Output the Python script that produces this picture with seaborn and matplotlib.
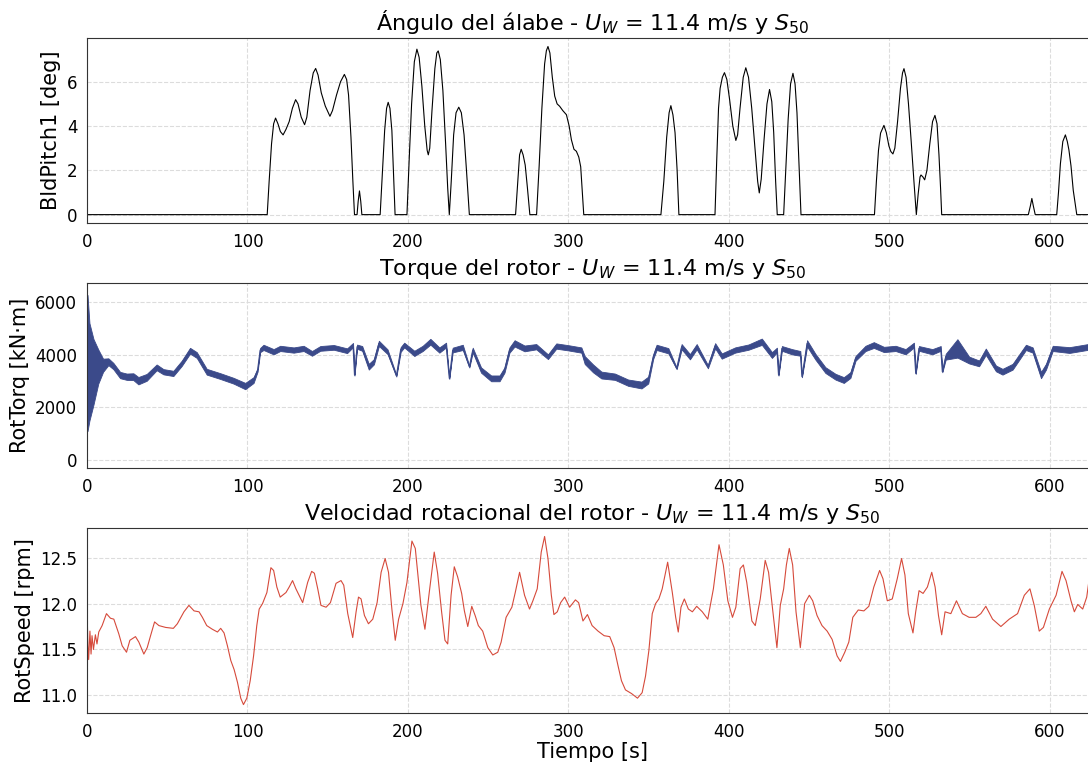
import numpy as np
import pandas as pd
import matplotlib
matplotlib.use("Agg")
import matplotlib.pyplot as plt
import seaborn as sns

# Datos (tiempo en s)
pitch_t = [0, 112.3, 113.5, 115, 116.3, 117.5, 119, 120.5, 122.2, 124, 126, 128, 130, 131.5,
           133.5, 135.6, 137, 139, 141, 142.5, 144, 146, 148.5, 151.4, 153, 155.5, 158, 160.4,
           161.8, 163, 164.5, 165.7, 166.7, 168.3, 169, 169.8, 170.6, 171.3, 182.7, 184, 185.5,
           186.7, 187.7, 188.8, 190, 191.2, 192,
           199.4, 200.8, 202.3, 204, 205.6, 207, 208.7, 210.5, 212, 212.7, 213.6, 215, 216.8,
           218, 218.9, 220.2, 221.8, 223.5, 224.8, 225.8, 227, 228.5, 230, 231.7, 233.3, 235,
           236.5, 238.3,
           267.1, 268.5, 269.6, 270.6, 271.8, 273.1, 274.5, 276, 280.2, 281.8, 283.5, 285.2,
           286.3, 287.3, 288.5, 290, 291.5, 293, 294.6, 296.5, 298.8, 300.5, 301.9, 303.5, 305,
           306.5, 307.7, 308.7, 309.6,
           357.7, 359.5, 361.3, 362.8, 363.9, 365.2, 366.5, 367.8, 368.9,
           391.4, 392.5, 393.6, 394.6, 396, 397.3, 398.8, 400.5, 402.5, 404.4, 405.5, 407, 409,
           410.6, 412.3, 414.3, 416.3, 418, 419, 420.2, 422, 423.8, 425.4, 426.8, 428, 429.2,
           430.2, 434.2, 435.5, 437, 438.5, 440, 441.3, 442.5, 443.8, 445,
           490.8, 492, 493.3, 494.6, 496.7, 498.2, 499.8, 501, 502.3, 503.5, 505.2, 507, 508.3,
           509.2, 510.5, 512, 513.7, 515.5, 516.9, 518, 519.2, 519.8, 521, 522.1, 523.5, 525.3,
           527, 528.5, 529.8, 531, 532, 532.7,
           586.7, 588, 588.9, 589.8, 591, 604.4, 605.5, 606.7, 608.2, 609.8, 611, 612, 613.3,
           614.7, 616.9, 624.4, 625.5, 626.5, 628, 630]
pitch_v = [0, 0, 1.5, 3.2, 4.1, 4.36, 4.1, 3.75, 3.6, 3.85, 4.2, 4.8, 5.19, 5.0,
           4.4, 4.06, 4.4, 5.6, 6.4, 6.6, 6.3, 5.5, 4.9, 4.44, 4.7, 5.4, 6.0, 6.33,
           6.1, 5.4, 3.5, 1.5, 0, 0, 0.6, 1.07, 0.6, 0, 0, 1.8, 3.8,
           4.8, 5.07, 4.8, 3.8, 1.5, 0,
           0, 2.5, 5.0, 6.9, 7.47, 7.1, 5.8, 4.0, 2.9, 2.7, 3.0, 4.7, 6.6,
           7.3, 7.39, 7.0, 5.6, 3.2, 1.2, 0, 1.5, 3.6, 4.6, 4.85, 4.6, 3.6,
           2.0, 0,
           0, 1.5, 2.7, 2.95, 2.7, 2.24, 1.2, 0, 0, 2.2, 4.8, 6.8,
           7.4, 7.59, 7.3, 6.2, 5.35, 5.0, 4.89, 4.7, 4.51, 4.0, 3.38, 2.95, 2.86,
           2.6, 2.16, 1.0, 0,
           0, 1.5, 3.5, 4.6, 4.92, 4.5, 3.7, 2.0, 0,
           0, 2.5, 4.8, 5.7, 6.2, 6.41, 6.1, 5.2, 4.0, 3.35, 3.6, 4.8, 6.2,
           6.63, 6.2, 4.8, 3.0, 1.5, 0.98, 1.6, 3.4, 5.0, 5.65, 5.1, 3.7, 1.5,
           0, 0, 2.0, 4.3, 5.9, 6.38, 5.9, 4.6, 2.2, 0,
           0, 1.5, 2.9, 3.68, 4.03, 3.7, 3.1, 2.85, 2.74, 3.0, 4.2, 5.7, 6.4,
           6.59, 6.2, 5.0, 3.3, 1.4, 0, 0.9, 1.7, 1.79, 1.7, 1.57, 2.0, 3.2,
           4.2, 4.48, 4.1, 2.7, 1.2, 0,
           0, 0.4, 0.73, 0.4, 0, 0, 1.0, 2.3, 3.3, 3.6, 3.3, 2.92, 2.2,
           1.1, 0, 0, 1.2, 2.4, 3.5, 4.2]

torq_t = [0, 0.3, 1.5, 4, 7, 10, 13.3, 16.4, 20.6, 24.7, 28.9, 32, 37.2, 43.4, 47.6, 53.8,
          59, 64.2, 68.4, 74.6, 83, 91.3, 98.6, 103.8, 106.3, 107.9, 110, 116.3, 120.4,
          128.8, 135, 140.2, 145.4, 153.8, 162.1, 165.8, 166.7, 168.3, 171.5, 175.6, 178.8,
          181.9, 187.3, 192.8, 195.5, 197.7, 204, 209.2, 214, 219.6, 223.8, 225.8, 227.9,
          234.2, 238.3, 240.4, 245.6, 251.9, 257.1, 260.2, 263.3, 266.5, 272.7, 280, 287.3,
          292.5, 299.8, 308.1, 310.2, 315.4, 320.6, 329, 337.3, 345.6, 349.8, 352.9, 355,
          362.3, 367.5, 370.6, 375.8, 380, 387, 391.5, 395.6, 404, 412.3, 420.6, 426.9, 430,
          431, 433.1, 439.4, 444.6, 445.6, 448.8, 454, 460.2, 466.5, 471.7, 475.8, 479,
          485.2, 490.4, 496.7, 504, 510.2, 515.4, 516.5, 518.5, 526.9, 532.1, 533.1, 535.2,
          542.5, 549.8, 556, 560.2, 566.5, 570.6, 576.9, 585.2, 589.4, 594.6, 597.7, 601.9,
          612.3, 618.5, 624.8, 630]
torq_mid = [3685, 3685, 3350, 3350, 3550, 3600, 3734, 3570, 3228, 3165, 3165, 3013, 3140, 3520,
            3354, 3290, 3672, 4152, 3988, 3354, 3190, 3013, 2810, 3038, 3418, 4178, 4279,
            4114, 4240, 4178, 4240, 4051, 4240, 4279, 4152, 4368, 3228, 4305, 4240, 3545,
            3734, 4431, 4114, 3200, 4200, 4368, 4051, 4240, 4494, 4178, 4368, 3102, 4178,
            4279, 3544, 4178, 3418, 3102, 3102, 3418, 4178, 4431, 4240, 4305, 3924, 4330,
            4265, 4178, 3798, 3481, 3228, 3165, 2937, 2849, 3038, 3924, 4279, 4152, 3481,
            4305, 3924, 4305, 3544, 4340, 3950, 4180, 4290, 4494, 3988, 4178, 3228, 4240,
            4114, 4051, 3165, 4431, 3924, 3418, 3165, 3038, 3228, 3861, 4240, 4368, 4200,
            4240, 4114, 4368, 3292, 4240, 4114, 4240, 3354, 3924, 4240, 3798, 3671, 4114,
            3481, 3354, 3544, 4279, 4178, 3228, 3544, 4240, 4178, 4240, 4305, 4200]
torq_half = [2585, 2585, 1850, 1250, 650, 250, 130, 120, 120, 120, 130, 140, 130, 110, 100, 100,
             100, 110, 110, 110, 110, 110, 120, 110, 60, 80, 100, 100, 100, 100, 100, 90, 90,
             90, 90, 80, 20, 80, 90, 110, 100, 100, 90, 30, 90, 90, 100, 100, 110, 100, 90, 20,
             90, 100, 30, 90, 100, 110, 110, 100, 100, 120, 110, 100, 90, 100, 100, 100, 150,
             150, 130, 120, 120, 130, 130, 80, 100, 100, 30, 100, 100, 100, 60, 100, 100, 100,
             100, 120, 110, 90, 20, 90, 100, 90, 20, 120, 110, 110, 110, 110, 110, 90, 100,
             110, 100, 100, 100, 90, 20, 90, 100, 90, 20, 110, 350, 130, 110, 120, 110, 110,
             110, 100, 100, 120, 110, 100, 110, 110, 110, 110]

speed_t = [0, 0.5, 1.0, 1.8, 2.5, 3.1, 4.0, 5.2, 6.2, 7.3, 9.4, 12.1, 14.6, 16.7, 19.8, 21.9,
           24.6, 26.7, 30.2, 32.3, 35.4, 37.5, 39.6, 42.1, 44.8, 49, 53.8, 56.3, 60.4, 63.5,
           66.7, 69.8, 71.9, 74.6, 78.1, 81.3, 83.3, 85.4, 87.5, 89.6, 91.7, 93.8, 95.8, 97.5,
           99.6, 101.7, 103.8, 105.8, 107.3, 109.4, 112.1, 114.6, 116.3, 118.3, 120.4, 124,
           126, 128.1, 130.2, 134.4, 137.5, 140, 141.7, 143.8, 145.8, 149, 151.7, 155.2, 158.3,
           160, 162.5, 165.6, 167.7, 169.2, 170.8, 172.9, 175.4, 178.1, 180.8, 183.3, 185.8,
           187.9, 190, 192.1, 194.2, 196.9, 199.4, 202.5, 204.6, 206.7, 208.1, 210.6, 213.3,
           216.4, 218.5, 221, 223.1, 224.8, 226.9, 228.9, 231, 233.5, 235.2, 237.3, 239.8,
           241.9, 243.9, 246.6, 249.8, 252.9, 256, 258.1, 261.2, 264.8, 266.9, 269.6, 272.7,
           275.8, 277.9, 280.6, 283.1, 285.2, 287.3, 289.4, 291, 293.1, 295.2, 297.7, 300.8,
           304.4, 306.4, 309.1, 311.9, 314.8, 318.5, 322.3, 325.8, 328.5, 331, 333.1, 335.6,
           339.4, 343.1, 346, 348.1, 350.2, 352.3, 354.4, 356.4, 358.5, 361.9, 364.8, 366.9,
           368.5, 370.2, 372.3, 374.8, 377.3, 380, 383.5, 386.9, 390.4, 393.9, 396.6, 399.4,
           402.3, 404.4, 407.1, 409.1, 411.2, 414.4, 416.5, 419.6, 422.7, 424.8, 427.3, 430,
           432.1, 434.2, 435.9, 437.7, 439.8, 441.9, 444.6, 447.3, 450.2, 452.3, 455, 458.1,
           461.3, 464.4, 467.5, 469.6, 472.3, 474.8, 477.3, 480.7, 484.2, 487.3, 490.4, 494,
           496.1, 498.8, 501.9, 505, 507.7, 509.8, 511.9, 514.8, 516.5, 518.6, 521.1, 523.8,
           526.5, 528.6, 530.7, 532.7, 534.8, 538.4, 541.9, 545.6, 549.8, 554, 557.1, 560.2,
           564.4, 569.6, 574.8, 580, 584.2, 587.7, 590.4, 593.5, 596.1, 599.8, 604, 607.7,
           610.2, 613.3, 615.4, 617.5, 620.6, 623.1, 625.2, 627.5, 630]
speed_v = [11.96, 11.55, 11.39, 11.70, 11.45, 11.65, 11.50, 11.66, 11.56, 11.69, 11.76, 11.89,
           11.84, 11.83, 11.67, 11.54, 11.47, 11.60, 11.64, 11.58, 11.45, 11.52, 11.65, 11.80,
           11.76, 11.74, 11.73, 11.78, 11.91, 11.98, 11.92, 11.91, 11.85, 11.76, 11.72, 11.69,
           11.73, 11.68, 11.54, 11.38, 11.28, 11.14, 10.97, 10.90, 10.97, 11.16, 11.43, 11.76,
           11.94, 12.00, 12.12, 12.39, 12.36, 12.18, 12.07, 12.12, 12.18, 12.25, 12.16, 12.01,
           12.23, 12.35, 12.33, 12.16, 11.98, 11.96, 12.01, 12.22, 12.25, 12.20, 11.89, 11.63,
           11.91, 12.07, 12.05, 11.87, 11.78, 11.83, 12.01, 12.34, 12.49, 12.34, 11.94, 11.60,
           11.83, 12.00, 12.23, 12.68, 12.60, 12.23, 11.98, 11.72, 12.12, 12.56, 12.33, 11.91,
           11.60, 11.56, 12.09, 12.40, 12.29, 12.11, 11.92, 11.75, 11.97, 11.87, 11.76, 11.70,
           11.52, 11.44, 11.47, 11.58, 11.85, 11.96, 12.12, 12.34, 12.09, 11.94, 12.03, 12.16,
           12.56, 12.73, 12.49, 12.09, 11.88, 11.91, 12.01, 12.07, 11.96, 12.04, 12.01, 11.81,
           11.88, 11.76, 11.70, 11.65, 11.64, 11.52, 11.32, 11.16, 11.06, 11.02, 10.97, 11.03,
           11.21, 11.49, 11.89, 12.00, 12.05, 12.16, 12.45, 12.12, 11.85, 11.69, 11.96, 12.05,
           11.94, 11.91, 11.97, 11.91, 11.83, 12.16, 12.64, 12.42, 12.03, 11.85, 11.96, 12.38,
           12.42, 12.23, 11.81, 11.76, 12.05, 12.47, 12.34, 11.94, 11.52, 11.98, 12.16, 12.42,
           12.60, 12.42, 11.91, 11.52, 12.00, 12.09, 12.03, 11.87, 11.76, 11.70, 11.61, 11.43,
           11.37, 11.47, 11.58, 11.85, 11.93, 11.92, 11.97, 12.18, 12.36, 12.27, 12.03, 12.05,
           12.27, 12.49, 12.31, 11.89, 11.68, 11.91, 12.14, 12.11, 12.18, 12.34, 12.18, 11.87,
           11.66, 11.91, 11.89, 12.03, 11.89, 11.85, 11.85, 11.89, 11.97, 11.83, 11.75, 11.83,
           11.89, 12.09, 12.16, 11.98, 11.70, 11.74, 11.94, 12.09, 12.35, 12.25, 12.03, 11.91,
           11.99, 11.94, 12.07, 12.34, 12.45, 12.5]

sns.set_style("whitegrid", {"grid.linestyle": "--", "grid.color": "#dcdcdc",
                            "axes.edgecolor": "#333333", "text.color": "black",
                            "axes.labelcolor": "black", "xtick.color": "black",
                            "ytick.color": "black"})
plt.rcParams['font.family'] = ['DejaVu Sans']

titulo = r" - $U_W$ = 11.4 m/s y $S_{50}$"
color_torq = "#3b4a8a"
color_speed = "#d64a3b"

fig = plt.figure(figsize=(10.88, 7.62), dpi=100)
ax1 = fig.add_axes([0.080, 0.7073, 0.929, 0.2427])
ax2 = fig.add_axes([0.080, 0.3858, 0.929, 0.2427])
ax3 = fig.add_axes([0.080, 0.0643, 0.929, 0.2427])

# Angulo del alabe
sns.lineplot(x=pitch_t, y=pitch_v, ax=ax1, color="black", linewidth=0.8, estimator=None)
ax1.set_title("Ángulo del álabe" + titulo, fontsize=16)
ax1.set_ylabel("BldPitch1 [deg]", fontsize=15)

# Torque del rotor (banda de ruido)
lo = np.array(torq_mid) - np.array(torq_half)
hi = np.array(torq_mid) + np.array(torq_half)
ax2.fill_between(torq_t, lo, hi, color=color_torq, linewidth=0.6)
sns.lineplot(x=torq_t, y=torq_mid, ax=ax2, color=color_torq, linewidth=0.8, estimator=None)
ax2.set_title("Torque del rotor" + titulo, fontsize=16)
ax2.set_ylabel("RotTorq [kN·m]", fontsize=15)
ax2.set_yticks([0, 2000, 4000, 6000])

# Velocidad rotacional
sns.lineplot(x=speed_t, y=speed_v, ax=ax3, color=color_speed, linewidth=0.8, estimator=None)
ax3.set_title("Velocidad rotacional del rotor" + titulo, fontsize=16)
ax3.set_ylabel("RotSpeed [rpm]", fontsize=15)
ax3.set_xlabel("Tiempo [s]", fontsize=15, labelpad=1)
ax3.set_yticks([11.0, 11.5, 12.0, 12.5])

for ax in [ax1, ax2, ax3]:
    ax.set_xlim(0, 630)
    ax.set_xticks([0, 100, 200, 300, 400, 500, 600])
    ax.tick_params(labelsize=12, colors="black")
    ax.grid(True, linestyle="--", color="#dcdcdc", linewidth=0.8)
    for s in ax.spines.values():
        s.set_linewidth(0.8)

ax2.set_ylim(-304, 6722)

fig.savefig("out.png", dpi=100)
